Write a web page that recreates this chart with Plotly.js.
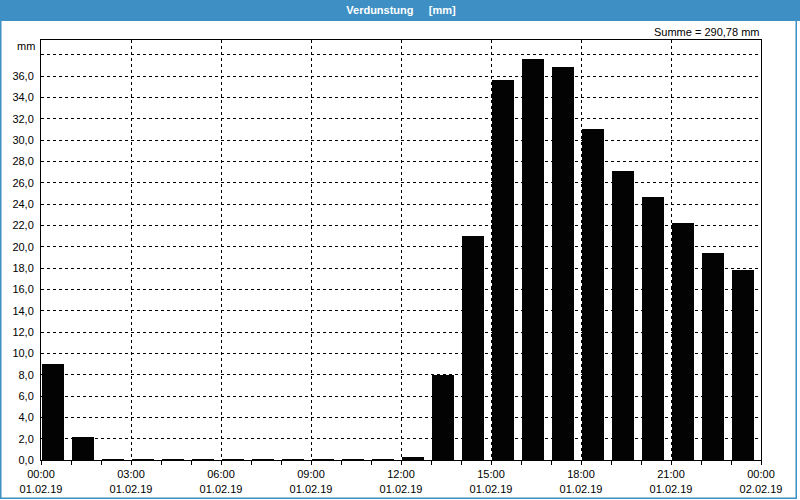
<!DOCTYPE html>
<html>
<head>
<meta charset="utf-8">
<script src="https://cdn.plot.ly/plotly-3.0.1.min.js"></script>
<style>
html,body{margin:0;padding:0;background:#fff;}
#chart{width:800px;height:500px;}
</style>
</head>
<body>
<div id="chart"></div>
<script>
// Hours of day (bar start), 01.02.19 00:00 .. 23:00
const hours = [0,1,2,3,4,5,6,7,8,9,10,11,12,13,14,15,16,17,18,19,20,21,22,23];
// Evaporation values [mm]
const values = [9.0,2.2,0.1,0.1,0.1,0.1,0.1,0.1,0.1,0.1,0.1,0.1,0.3,8.0,21.0,35.6,37.6,36.8,31.0,27.1,24.7,22.2,19.4,17.8];
// X tick positions and labels
const xTickVals = [0,3,6,9,12,15,18,21,24];
const xTickText = ["00:00<br>01.02.19","03:00<br>01.02.19","06:00<br>01.02.19","09:00<br>01.02.19","12:00<br>01.02.19","15:00<br>01.02.19","18:00<br>01.02.19","21:00<br>01.02.19","00:00<br>02.02.19"];
// Y tick positions and labels
const yTickVals = [0,2,4,6,8,10,12,14,16,18,20,22,24,26,28,30,32,34,36,38];
const yTickText = ["0,0","2,0","4,0","6,0","8,0","10,0","12,0","14,0","16,0","18,0","20,0","22,0","24,0","26,0","28,0","30,0","32,0","34,0","36,0",""];
const titleText = "Verdunstung&nbsp;&nbsp;&nbsp;&nbsp;&nbsp;[mm]";
const sumText = "Summe = 290,78 mm";
const unitText = "mm";

const W = 800, H = 500;
const mL = 41, mR = 39, mT = 40, mB = 40;
const pw = W - mL - mR, ph = H - mT - mB;
const px = x => (x - mL) / pw;
const py = y => (H - mB - y) / ph;
const blue = "#3d8fc4";
const font = "'Liberation Sans', Arial, sans-serif";

const trace = {
  type: "bar",
  x: hours,
  y: values,
  offset: 0.03,
  width: 0.735,
  marker: {color: "#030303", line: {width: 0}},
  hoverinfo: "x+y"
};

const layout = {
  width: W, height: H,
  margin: {l: mL, r: mR, t: mT, b: mB, pad: 0},
  paper_bgcolor: "#ffffff",
  plot_bgcolor: "#ffffff",
  showlegend: false,
  font: {family: font, size: 11, color: "#000"},
  title: {
    text: "<b>" + titleText + "</b>",
    font: {family: font, size: 11, color: "#ffffff"},
    x: 0.5, xanchor: "center",
    y: 1 - 10/H, yanchor: "middle",
    xref: "paper", yref: "container"
  },
  xaxis: {
    range: [0, 24],
    tickmode: "array",
    tickvals: xTickVals,
    ticktext: xTickText,
    ticks: "outside", ticklen: 4, tickcolor: "#000", tickwidth: 1,
    showgrid: true, gridcolor: "#000", griddash: "3px,3px", gridwidth: 1,
    showline: true, linecolor: "#000", linewidth: 1, mirror: true,
    zeroline: false,
    tickfont: {family: font, size: 11, color: "#000"},
    minor: {dtick: 1, tick0: 0, ticks: "outside", ticklen: 4, tickcolor: "#000", showgrid: false},
    fixedrange: true
  },
  yaxis: {
    range: [0, 39.375],
    tickmode: "array",
    tickvals: yTickVals,
    ticktext: yTickText,
    ticks: "",
    showgrid: true, gridcolor: "#000", griddash: "3px,3px", gridwidth: 1,
    showline: true, linecolor: "#000", linewidth: 1, mirror: true,
    zeroline: false,
    tickfont: {family: font, size: 11, color: "#000"},
    ticklabelstandoff: 4,
    fixedrange: true
  },
  shapes: [
    {type: "rect", xref: "paper", yref: "paper", layer: "below",
     x0: px(0), x1: px(800), y0: py(0), y1: py(21),
     fillcolor: blue, line: {width: 0}},
    {type: "rect", xref: "paper", yref: "paper", layer: "below",
     x0: px(0.75), x1: px(796.25), y0: py(20), y1: py(498.25),
     fillcolor: "rgba(0,0,0,0)", line: {color: blue, width: 1.5}}
  ],
  annotations: [
    {text: sumText, xref: "paper", yref: "paper", x: px(761), y: py(32),
     xanchor: "right", yanchor: "middle", showarrow: false,
     font: {family: font, size: 11, color: "#000"}},
    {text: unitText, xref: "paper", yref: "paper", x: px(37), y: py(46),
     xanchor: "right", yanchor: "middle", showarrow: false,
     font: {family: font, size: 11, color: "#000"}}
  ],
  bargap: 0
};

Plotly.newPlot("chart", [trace], layout, {displayModeBar: false, staticPlot: true});
</script>
</body>
</html>
